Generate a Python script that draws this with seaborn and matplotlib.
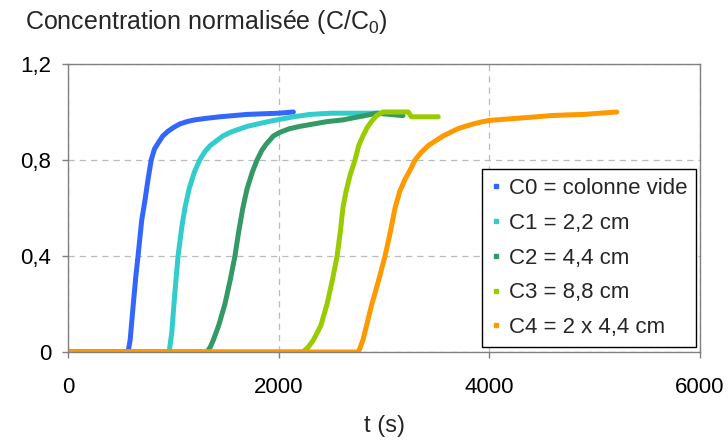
import pandas as pd
import matplotlib.pyplot as plt
import seaborn as sns
from matplotlib.lines import Line2D
from matplotlib.ticker import FuncFormatter

# courbes de percée
t_c0 = [0, 570, 590, 620, 645, 665, 700, 730, 760, 790, 820, 855, 900, 950, 1000, 1060, 1130,
        1200, 1300, 1440, 1700, 2000, 2140]
c_c0 = [0, 0, 0.05, 0.2, 0.32, 0.4, 0.55, 0.63, 0.72, 0.8, 0.845, 0.87, 0.9, 0.92, 0.935, 0.95,
        0.96, 0.967, 0.973, 0.98, 0.99, 0.995, 1.0]

t_c1 = [0, 960, 985, 1015, 1045, 1080, 1110, 1150, 1200, 1250, 1300, 1350, 1410, 1470, 1540,
        1600, 1700, 1800, 1900, 2020, 2140, 2300, 2500, 2800, 3100]
c_c1 = [0, 0, 0.08, 0.25, 0.4, 0.52, 0.6, 0.68, 0.75, 0.8, 0.835, 0.86, 0.88, 0.9, 0.915,
        0.925, 0.94, 0.95, 0.96, 0.97, 0.98, 0.99, 0.995, 0.995, 0.995]

t_c2 = [0, 1320, 1350, 1380, 1430, 1490, 1540, 1585, 1620, 1660, 1700, 1750, 1795, 1840, 1880,
        1920, 1950, 2010, 2100, 2200, 2330, 2460, 2610, 2700, 2820, 2930, 3180]
c_c2 = [0, 0, 0.02, 0.05, 0.11, 0.2, 0.3, 0.4, 0.5, 0.6, 0.68, 0.75, 0.8, 0.84, 0.865,
        0.885, 0.9, 0.915, 0.93, 0.94, 0.95, 0.96, 0.967, 0.975, 0.985, 0.995, 0.985]

t_c3 = [0, 2230, 2280, 2330, 2400, 2460, 2510, 2555, 2585, 2610, 2640, 2680, 2725, 2760, 2800,
        2840, 2880, 2930, 2990, 3230, 3260, 3515]
c_c3 = [0, 0, 0.02, 0.05, 0.11, 0.2, 0.3, 0.4, 0.5, 0.6, 0.67, 0.74, 0.8, 0.86, 0.9,
        0.935, 0.96, 0.985, 1.0, 1.0, 0.98, 0.98]

t_c4 = [0, 2755, 2775, 2800, 2840, 2885, 2950, 3010, 3060, 3105, 3150, 3200, 3250, 3295, 3350,
        3420, 3490, 3560, 3630, 3700, 3770, 3845, 3920, 4000, 4150, 4300, 4450, 4580, 4750,
        4900, 5050, 5210]
c_c4 = [0, 0, 0.02, 0.05, 0.12, 0.2, 0.3, 0.4, 0.5, 0.6, 0.67, 0.72, 0.76, 0.8, 0.83,
        0.86, 0.88, 0.9, 0.915, 0.93, 0.94, 0.95, 0.958, 0.965, 0.97, 0.975, 0.98, 0.985, 0.988,
        0.99, 0.995, 1.0]

labels = ["C0 = colonne vide", "C1 = 2,2 cm", "C2 = 4,4 cm", "C3 = 8,8 cm", "C4 = 2 x 4,4 cm"]
colors = ["#3366FF", "#33CCCC", "#339966", "#99CC00", "#FF9900"]

frames = []
for lab, t, c in zip(labels, [t_c0, t_c1, t_c2, t_c3, t_c4], [c_c0, c_c1, c_c2, c_c3, c_c4]):
    frames.append(pd.DataFrame({"t": t, "C": c, "serie": lab}))
df = pd.concat(frames, ignore_index=True)

sns.set_style("white")
plt.rcParams['font.family'] = ['Liberation Sans', 'DejaVu Sans']
plt.rcParams['mathtext.default'] = 'regular'

fig = plt.figure(figsize=(7.28, 4.41), dpi=100)
ax = fig.add_axes([68/728, 1-352/441, (700-68)/728, (352-64)/441])

sns.lineplot(data=df, x="t", y="C", hue="serie", palette=colors, hue_order=labels,
             estimator=None, sort=False, lw=3.6, ax=ax, legend=False,
             solid_capstyle="round", solid_joinstyle="round")

ax.set_xlim(0, 6000)
ax.set_ylim(0, 1.2)
ax.set_xticks([0, 2000, 4000, 6000])
ax.set_yticks([0, 0.4, 0.8, 1.2])
ax.yaxis.set_major_formatter(FuncFormatter(lambda v, p: "0" if v == 0 else f"{v:.1f}".replace(".", ",")))
ax.grid(True, color="#BBBBBB", linestyle=(0, (5, 4)), lw=0.9)
ax.set_axisbelow(True)
for s in ax.spines.values():
    s.set_color("#808080")
    s.set_linewidth(1)
ax.tick_params(axis="both", direction="out", length=4, width=1, color="#808080",
               labelsize=16, labelcolor="black", bottom=True, left=True)
ax.tick_params(axis="x", pad=14)
ax.tick_params(axis="y", pad=8)
ax.set_xlabel("t (s)", fontsize=17, labelpad=12)
ax.set_ylabel("")
ax.margins(0)

fig.text(25/728, 1-22/441, "Concentration normalisée (C/C$_0$)", fontsize=18,
         ha="left", va="center")

handles = [Line2D([], [], marker="s", ls="none", color=c, markersize=3) for c in colors]
leg = ax.legend(handles, labels, loc="lower right", bbox_to_anchor=(696/728, 1-347/441),
                bbox_transform=fig.transFigure, borderaxespad=0, fontsize=16, frameon=True,
                fancybox=False, framealpha=1, handletextpad=0.3, handlelength=0.5,
                borderpad=0.4, labelspacing=0.62)
leg.get_frame().set_edgecolor("black")
leg.get_frame().set_facecolor("white")
leg.get_frame().set_linewidth(1)

fig.savefig("out.png", dpi=100)
